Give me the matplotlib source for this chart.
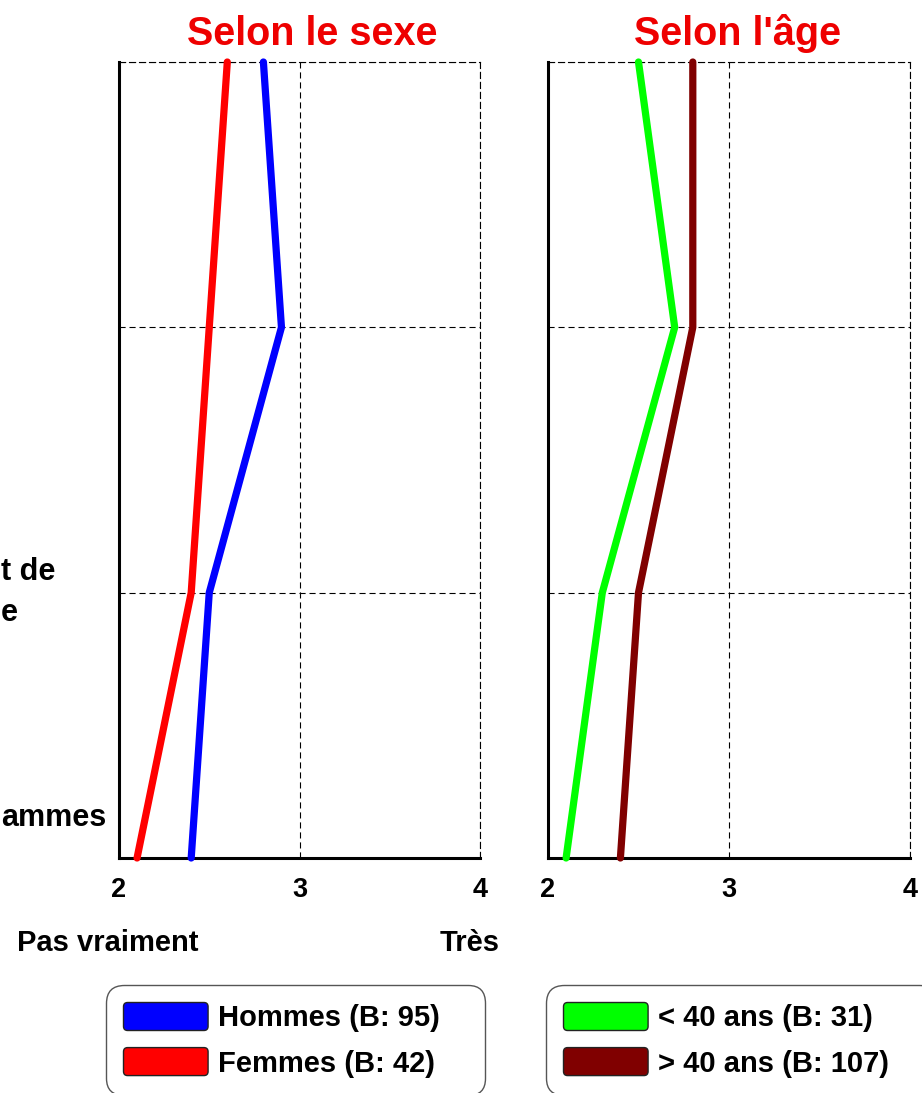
import matplotlib
matplotlib.use("Agg")
import matplotlib.pyplot as plt
from matplotlib.patches import Patch, FancyBboxPatch
from matplotlib.legend_handler import HandlerPatch
from matplotlib.transforms import blended_transform_factory

plt.rcParams['font.family'] = ['Liberation Sans', 'DejaVu Sans']
plt.rcParams['font.weight'] = 'bold'

# category labels (only the visible ends of them, the picture is cropped on the left)
categories = ["", "", "t de\ne", "ammes\n\n"]
x_ticks = [2, 3, 4]

hommes = [2.8, 2.9, 2.5, 2.4]
femmes = [2.6, 2.5, 2.4, 2.1]
moins40 = [2.5, 2.7, 2.3, 2.1]
plus40 = [2.8, 2.8, 2.5, 2.4]

W, H = 922, 1093
fig = plt.figure(figsize=(W / 100, H / 100), dpi=100)

def px_axes(x0, x1, y0, y1):
    return fig.add_axes([x0 / W, 1 - y1 / H, (x1 - x0) / W, (y1 - y0) / H])

ax1 = px_axes(119, 480, 62, 858)
ax2 = px_axes(548, 910, 62, 858)

ypos = list(range(len(categories)))
dash = (0, (5.5, 3.5))

def style(ax, title, title_x):
    ax.set_xlim(2, 4)
    ax.set_ylim(len(categories) - 1, 0)
    ax.set_xticks(x_ticks)
    ax.set_xticklabels([str(t) for t in x_ticks], fontsize=19.5, fontweight='bold')
    ax.set_yticks(ypos)
    ax.set_yticklabels([])
    ax.tick_params(axis='x', length=0, pad=14)
    ax.tick_params(axis='y', length=0)
    ax.grid(True, linestyle=dash, color='black', linewidth=0.8)
    for s in ['top', 'right']:
        ax.spines[s].set_linestyle(dash)
        ax.spines[s].set_linewidth(0.8)
    ax.spines['left'].set_linewidth(2.2)
    ax.spines['bottom'].set_linewidth(2.2)
    ax.text(title_x, 1.021, title, transform=ax.transAxes, ha='center', va='baseline',
            color='#ee0000', fontsize=28.5, fontweight='bold')

style(ax1, "Selon le sexe", 0.535)
style(ax2, "Selon l'âge", 0.525)

ax1.plot(hommes, ypos, color='#0000ff', lw=5.2, solid_capstyle='round', zorder=3, clip_on=False)
ax1.plot(femmes, ypos, color='#ff0000', lw=5.2, solid_capstyle='round', zorder=3, clip_on=False)
ax2.plot(moins40, ypos, color='#00ff00', lw=5.2, solid_capstyle='round', zorder=3, clip_on=False)
ax2.plot(plus40, ypos, color='#800000', lw=5.2, solid_capstyle='round', zorder=3, clip_on=False)

tr = blended_transform_factory(fig.transFigure, ax1.transData)
for y, lab in zip(ypos, categories):
    if lab:
        ax1.text(1 / W, y, lab, transform=tr, ha='left', va='center',
                 multialignment='left', fontsize=22, fontweight='bold',
                 linespacing=1.45, clip_on=False)

ax1.text(108 / W, 1 - 943 / H, "Pas vraiment", transform=fig.transFigure, ha='center',
         va='center', fontsize=21, fontweight='bold')
ax1.text(470 / W, 1 - 943 / H, "Très", transform=fig.transFigure, ha='center',
         va='center', fontsize=21, fontweight='bold')


def rounded(legend, orig_handle, xdescent, ydescent, width, height, fontsize):
    return FancyBboxPatch((-xdescent, -ydescent), width, height,
                          boxstyle="round,pad=0,rounding_size=3")


hm = {Patch: HandlerPatch(patch_func=rounded)}
leg_kw = dict(loc='upper left', mode='expand', fontsize=21, handlelength=2.9,
              handleheight=1.1, handletextpad=0.34, labelspacing=0.52, borderpad=0.6,
              borderaxespad=0, fancybox=True, edgecolor='#555555', framealpha=1,
              handler_map=hm)

h1 = [Patch(facecolor='#0000ff', edgecolor='#222222', label="Hommes (B: 95)"),
      Patch(facecolor='#ff0000', edgecolor='#222222', label="Femmes (B: 42)")]
l1 = fig.legend(handles=h1, bbox_to_anchor=(106 / W, 1 - 1093 / H, 379 / W, 108 / H), **leg_kw)
l1.get_frame().set_boxstyle("round,pad=0,rounding_size=0.6")
for t in l1.get_texts():
    t.set_fontweight('bold')

h2 = [Patch(facecolor='#00ff00', edgecolor='#222222', label="< 40 ans (B: 31)"),
      Patch(facecolor='#800000', edgecolor='#222222', label="> 40 ans (B: 107)")]
l2 = fig.legend(handles=h2, bbox_to_anchor=(546 / W, 1 - 1093 / H, 390 / W, 108 / H), **leg_kw)
l2.get_frame().set_boxstyle("round,pad=0,rounding_size=0.6")
for t in l2.get_texts():
    t.set_fontweight('bold')

fig.savefig("out.png", dpi=100)
